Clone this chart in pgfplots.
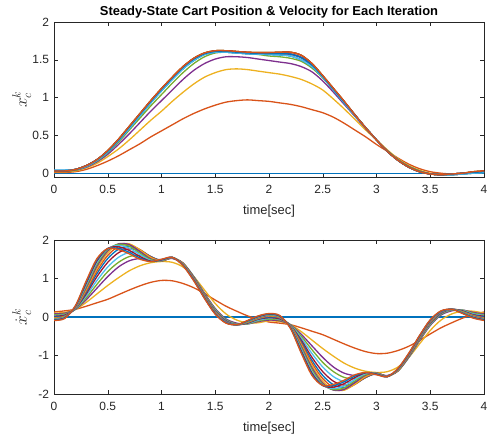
\documentclass[border=0pt]{standalone}
\usepackage{fontspec}
\setmainfont{Liberation Sans}
\usepackage{pgfplots}
\pgfplotsset{compat=1.18}
\usepackage{pgfplotstable}
\definecolor{mblue}{rgb}{0,0.447,0.741}
\definecolor{morange}{rgb}{0.85,0.325,0.098}
\definecolor{myellow}{rgb}{0.929,0.694,0.125}
\definecolor{mpurple}{rgb}{0.494,0.184,0.556}
\definecolor{mgreen}{rgb}{0.466,0.674,0.188}
\definecolor{mcyan}{rgb}{0.301,0.745,0.933}
\definecolor{mred}{rgb}{0.635,0.078,0.184}
\definecolor{axgray}{rgb}{0.15,0.15,0.15}

\pgfplotstableread{
t p2 p3 p4 p5 f1 f2 f3
0.0 0.01 0.02 0.03 0.03 0.04 0.03 0.03
0.1 0.01 0.02 0.03 0.03 0.04 0.03 0.03
0.2 0.02 0.03 0.04 0.04 0.05 0.05 0.05
0.3 0.05 0.07 0.08 0.09 0.09 0.1 0.1
0.4 0.1 0.13 0.15 0.16 0.17 0.18 0.18
0.5 0.16 0.22 0.25 0.27 0.28 0.29 0.3
0.6 0.23 0.32 0.38 0.41 0.43 0.44 0.45
0.7 0.31 0.44 0.52 0.57 0.59 0.61 0.62
0.8 0.39 0.57 0.67 0.73 0.76 0.78 0.79
0.9 0.48 0.7 0.82 0.89 0.93 0.95 0.96
1.0 0.56 0.82 0.96 1.04 1.09 1.11 1.12
1.1 0.64 0.95 1.1 1.19 1.24 1.26 1.27
1.2 0.72 1.07 1.24 1.33 1.38 1.4 1.41
1.3 0.79 1.18 1.36 1.45 1.49 1.51 1.52
1.4 0.85 1.27 1.45 1.54 1.57 1.58 1.59
1.5 0.9 1.33 1.51 1.59 1.6 1.61 1.62
1.6 0.94 1.37 1.54 1.6 1.6 1.61 1.62
1.7 0.96 1.38 1.54 1.59 1.59 1.6 1.61
1.8 0.97 1.37 1.53 1.58 1.58 1.59 1.6
1.9 0.96 1.35 1.51 1.57 1.575 1.585 1.595
2.0 0.95 1.33 1.49 1.55 1.57 1.58 1.595
2.1 0.93 1.31 1.47 1.54 1.565 1.58 1.6
2.2 0.91 1.28 1.45 1.52 1.55 1.575 1.6
2.3 0.88 1.24 1.41 1.48 1.5 1.53 1.56
2.4 0.84 1.18 1.34 1.39 1.41 1.43 1.45
2.5 0.8 1.1 1.22 1.26 1.27 1.28 1.29
2.6 0.74 0.98 1.07 1.1 1.1 1.11 1.12
2.7 0.66 0.85 0.91 0.93 0.93 0.94 0.95
2.8 0.57 0.71 0.75 0.76 0.76 0.77 0.77
2.9 0.48 0.57 0.59 0.6 0.6 0.6 0.6
3.0 0.38 0.44 0.44 0.44 0.44 0.44 0.44
3.1 0.29 0.31 0.3 0.3 0.29 0.29 0.29
3.2 0.2 0.19 0.18 0.18 0.17 0.17 0.17
3.3 0.12 0.1 0.09 0.09 0.08 0.08 0.08
3.4 0.06 0.04 0.03 0.03 0.02 0.02 0.02
3.5 0.02 0.0 -0.01 -0.01 -0.01 -0.01 -0.01
3.6 0.0 -0.02 -0.02 -0.02 -0.02 -0.02 -0.02
3.7 -0.01 -0.02 -0.02 -0.02 -0.02 -0.01 -0.01
3.8 0.0 -0.01 -0.01 -0.01 -0.01 0.0 0.0
3.9 0.01 0.0 0.01 0.01 0.0 0.01 0.02
4.0 0.02 0.01 0.02 0.02 0.01 0.02 0.03
}\postab

\pgfplotstableread{
t v2 v3 v4 v5 v6 v7 v8 v9 v10 v11 v12 v13 v14 v15 v16
0.0 0.13 0.1 0.08 0.06 0.04 0.02 0.0 -0.02 -0.03 -0.04 -0.05 -0.06 -0.07 -0.08 -0.09
0.1 0.16 0.12 0.1 0.08 0.06 0.05 0.03 0.02 0.01 0.0 0.0 -0.01 -0.02 -0.03 -0.04
0.2 0.2 0.2 0.2 0.2 0.21 0.22 0.22 0.23 0.24 0.25 0.26 0.27 0.28 0.29 0.3
0.3 0.28 0.38 0.45 0.5 0.55 0.6 0.64 0.68 0.72 0.76 0.8 0.84 0.88 0.91 0.94
0.4 0.37 0.6 0.75 0.85 0.95 1.05 1.13 1.2 1.26 1.32 1.37 1.42 1.46 1.49 1.52
0.5 0.46 0.82 1.05 1.18 1.3 1.42 1.52 1.6 1.67 1.72 1.75 1.77 1.78 1.78 1.78
0.6 0.58 1.02 1.3 1.42 1.55 1.67 1.76 1.83 1.88 1.9 1.89 1.86 1.82 1.78 1.75
0.7 0.7 1.2 1.46 1.57 1.68 1.77 1.83 1.88 1.9 1.88 1.84 1.79 1.73 1.68 1.64
0.8 0.81 1.33 1.52 1.6 1.68 1.72 1.74 1.75 1.74 1.7 1.66 1.62 1.57 1.53 1.5
0.9 0.9 1.41 1.5 1.53 1.56 1.57 1.57 1.56 1.54 1.51 1.49 1.47 1.45 1.44 1.44
1.0 0.95 1.44 1.49 1.48 1.47 1.46 1.46 1.46 1.46 1.46 1.46 1.47 1.48 1.49 1.5
1.1 0.94 1.42 1.52 1.53 1.53 1.53 1.53 1.54 1.54 1.54 1.55 1.55 1.55 1.55 1.55
1.2 0.87 1.3 1.38 1.4 1.4 1.4 1.39 1.39 1.38 1.37 1.37 1.36 1.35 1.34 1.33
1.3 0.76 1.05 1.05 1.05 1.04 1.03 1.02 1.01 1.0 0.99 0.98 0.97 0.96 0.95 0.94
1.4 0.61 0.7 0.62 0.6 0.58 0.57 0.56 0.55 0.54 0.53 0.52 0.51 0.5 0.49 0.48
1.5 0.44 0.35 0.22 0.2 0.18 0.16 0.15 0.14 0.13 0.12 0.11 0.1 0.09 0.08 0.07
1.6 0.28 0.08 -0.05 -0.07 -0.09 -0.1 -0.11 -0.12 -0.13 -0.13 -0.14 -0.14 -0.15 -0.15 -0.16
1.7 0.15 -0.08 -0.16 -0.18 -0.19 -0.2 -0.2 -0.2 -0.2 -0.2 -0.2 -0.2 -0.2 -0.2 -0.2
1.8 0.03 -0.15 -0.18 -0.18 -0.17 -0.16 -0.15 -0.14 -0.13 -0.12 -0.12 -0.11 -0.1 -0.1 -0.09
1.9 -0.06 -0.15 -0.12 -0.1 -0.08 -0.06 -0.05 -0.04 -0.03 -0.02 -0.01 0.0 0.01 0.02 0.03
2.0 -0.13 -0.1 -0.08 -0.06 -0.04 -0.02 0.0 0.02 0.03 0.04 0.05 0.06 0.07 0.08 0.09
2.1 -0.16 -0.12 -0.1 -0.08 -0.06 -0.05 -0.03 -0.02 -0.01 0.0 0.0 0.01 0.02 0.03 0.04
2.2 -0.2 -0.2 -0.2 -0.2 -0.21 -0.22 -0.22 -0.23 -0.24 -0.25 -0.26 -0.27 -0.28 -0.29 -0.3
2.3 -0.28 -0.38 -0.45 -0.5 -0.55 -0.6 -0.64 -0.68 -0.72 -0.76 -0.8 -0.84 -0.88 -0.91 -0.94
2.4 -0.37 -0.6 -0.75 -0.85 -0.95 -1.05 -1.13 -1.2 -1.26 -1.32 -1.37 -1.42 -1.46 -1.49 -1.52
2.5 -0.46 -0.82 -1.05 -1.18 -1.3 -1.42 -1.52 -1.6 -1.67 -1.72 -1.75 -1.77 -1.78 -1.78 -1.78
2.6 -0.58 -1.02 -1.3 -1.42 -1.55 -1.67 -1.76 -1.83 -1.88 -1.9 -1.89 -1.86 -1.82 -1.78 -1.75
2.7 -0.7 -1.2 -1.46 -1.57 -1.68 -1.77 -1.83 -1.88 -1.9 -1.88 -1.84 -1.79 -1.73 -1.68 -1.64
2.8 -0.81 -1.33 -1.52 -1.6 -1.68 -1.72 -1.74 -1.75 -1.74 -1.7 -1.66 -1.62 -1.57 -1.53 -1.5
2.9 -0.9 -1.41 -1.5 -1.53 -1.56 -1.57 -1.57 -1.56 -1.54 -1.51 -1.49 -1.47 -1.45 -1.44 -1.44
3.0 -0.95 -1.44 -1.49 -1.48 -1.47 -1.46 -1.46 -1.46 -1.46 -1.46 -1.46 -1.47 -1.48 -1.49 -1.5
3.1 -0.94 -1.42 -1.52 -1.53 -1.53 -1.53 -1.53 -1.54 -1.54 -1.54 -1.55 -1.55 -1.55 -1.55 -1.55
3.2 -0.87 -1.3 -1.38 -1.4 -1.4 -1.4 -1.39 -1.39 -1.38 -1.37 -1.37 -1.36 -1.35 -1.34 -1.33
3.3 -0.76 -1.05 -1.05 -1.05 -1.04 -1.03 -1.02 -1.01 -1.0 -0.99 -0.98 -0.97 -0.96 -0.95 -0.94
3.4 -0.61 -0.7 -0.62 -0.6 -0.58 -0.57 -0.56 -0.55 -0.54 -0.53 -0.52 -0.51 -0.5 -0.49 -0.48
3.5 -0.44 -0.35 -0.22 -0.2 -0.18 -0.16 -0.15 -0.14 -0.13 -0.12 -0.11 -0.1 -0.09 -0.08 -0.07
3.6 -0.28 -0.08 0.05 0.07 0.09 0.1 0.11 0.12 0.13 0.13 0.14 0.14 0.15 0.15 0.16
3.7 -0.15 0.08 0.16 0.18 0.19 0.2 0.2 0.2 0.2 0.2 0.2 0.2 0.2 0.2 0.2
3.8 -0.03 0.15 0.18 0.18 0.17 0.16 0.15 0.14 0.13 0.12 0.12 0.11 0.1 0.1 0.09
3.9 0.06 0.15 0.12 0.1 0.08 0.06 0.05 0.04 0.03 0.02 0.01 0.0 -0.01 -0.02 -0.03
4.0 0.13 0.1 0.08 0.06 0.04 0.02 0.0 -0.02 -0.03 -0.04 -0.05 -0.06 -0.07 -0.08 -0.09
}\veltab

\pgfplotsset{
  mstyle/.style={
    scale only axis, width=430bp,
    xmin=0, xmax=4, xtick={0,0.5,1,1.5,2,2.5,3,3.5,4},
    xticklabels={0,0.5,1,1.5,2,2.5,3,3.5,4},
    tick align=inside, major tick length=4.3bp,
    axis line style={axgray, line width=0.5bp},
    tick style={axgray, line width=0.5bp},
    ticklabel style={font=\fontsize{12}{14}\selectfont, text=axgray},
    xticklabel style={yshift=-5bp},
    yticklabel style={xshift=-1.5bp},
    /pgf/number format/assume math mode=true,
    xlabel={time[sec]},
    xlabel style={font=\fontsize{13}{15}\selectfont, text=axgray, at={(axis description cs:0.5,-0.22)}, anchor=center},
    ylabel style={font=\fontsize{17}{19}\selectfont, text=axgray, at={(axis description cs:-0.075,0.5)}, anchor=center},
    every axis plot/.append style={line width=1.3bp, smooth},
  }
}

\begin{document}
\begin{tikzpicture}[x=1bp,y=1bp]
\path (0,0) rectangle (493,438);
\begin{axis}[mstyle, at={(54bp,261bp)}, anchor=south west, height=155bp,
  ymin=-0.05, ymax=2, ytick={0,0.5,1,1.5,2}, yticklabels={0,0.5,1,1.5,2},
  ylabel={$x_c^k$},
  title={\textbf{Steady-State Cart Position \& Velocity for Each Iteration}},
  title style={font=\fontsize{13}{15}\selectfont, at={(axis description cs:0.5,1)}, anchor=base, yshift=1bp}]
\addplot[mblue] coordinates {(0,0) (4,0)};
\addplot[morange] table[x=t,y=p2]{\postab};
\addplot[myellow] table[x=t,y=p3]{\postab};
\addplot[mpurple] table[x=t,y=p4]{\postab};
\addplot[mgreen] table[x=t,y=p5]{\postab};
\addplot[mcyan] table[x=t,y=f1]{\postab};
\addplot[mred] table[x=t,y=f2]{\postab};
\addplot[mblue] table[x=t,y=f1]{\postab};
\addplot[morange] table[x=t,y=f2]{\postab};
\addplot[myellow] table[x=t,y=f3]{\postab};
\addplot[mpurple] table[x=t,y=f2]{\postab};
\addplot[mgreen] table[x=t,y=f3]{\postab};
\addplot[mcyan] table[x=t,y=f1]{\postab};
\addplot[mred] table[x=t,y=f3]{\postab};
\addplot[mblue] table[x=t,y=f2]{\postab};
\addplot[morange] table[x=t,y=f3]{\postab};
\end{axis}
\begin{axis}[mstyle, at={(54bp,44bp)}, anchor=south west, height=154bp,
  ymin=-2, ymax=2, ytick={-2,-1,0,1,2}, yticklabels={-2,-1,0,1,2},
  ylabel={$\dot{x}_c^k$}]
\addplot[mblue] coordinates {(0,0) (4,0)};
\addplot[morange] table[x=t,y=v2]{\veltab};
\addplot[myellow] table[x=t,y=v3]{\veltab};
\addplot[mpurple] table[x=t,y=v4]{\veltab};
\addplot[mgreen] table[x=t,y=v5]{\veltab};
\addplot[mcyan] table[x=t,y=v6]{\veltab};
\addplot[mred] table[x=t,y=v7]{\veltab};
\addplot[mblue] table[x=t,y=v8]{\veltab};
\addplot[morange] table[x=t,y=v9]{\veltab};
\addplot[myellow] table[x=t,y=v10]{\veltab};
\addplot[mpurple] table[x=t,y=v11]{\veltab};
\addplot[mgreen] table[x=t,y=v12]{\veltab};
\addplot[mcyan] table[x=t,y=v13]{\veltab};
\addplot[mred] table[x=t,y=v14]{\veltab};
\addplot[mblue] table[x=t,y=v15]{\veltab};
\addplot[morange] table[x=t,y=v16]{\veltab};
\end{axis}
\end{tikzpicture}
\end{document}
